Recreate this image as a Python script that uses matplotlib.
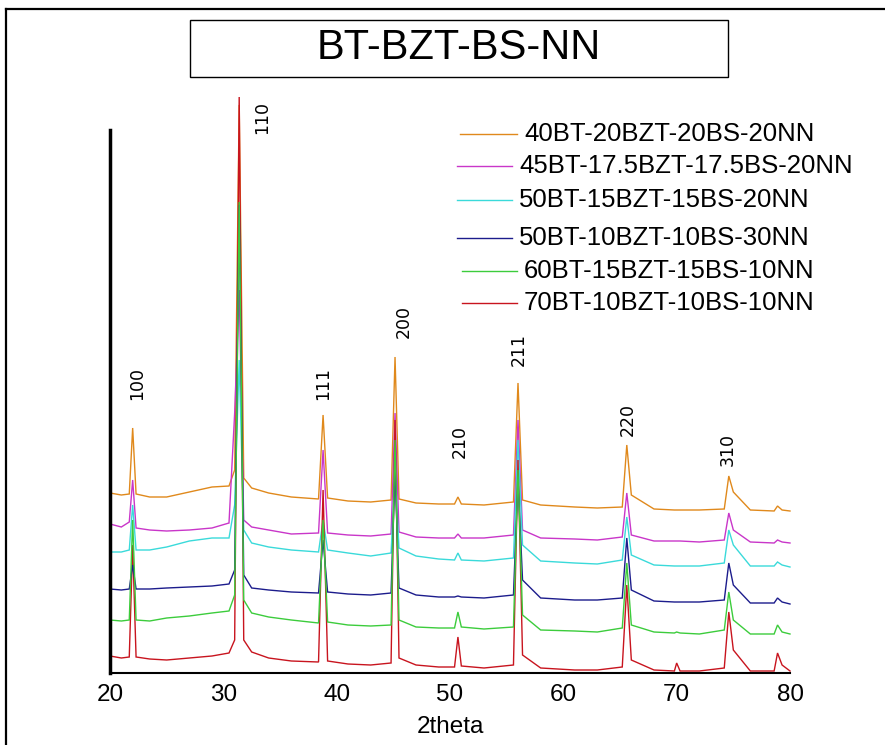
import numpy as np
import matplotlib
matplotlib.use("Agg")
import matplotlib.pyplot as plt
from matplotlib.lines import Line2D
from matplotlib.patches import Rectangle

plt.rcParams['font.family'] = ['Liberation Sans', 'DejaVu Sans']

# ---------------- data ----------------
series_names = ["40BT-20BZT-20BS-20NN", "45BT-17.5BZT-17.5BS-20NN",
                "50BT-15BZT-15BS-20NN", "50BT-10BZT-10BS-30NN",
                "60BT-15BZT-15BS-10NN", "70BT-10BZT-10BS-10NN"]
series_colors = ["#E0891C", "#C936C9", "#3ADADA", "#1C1C8C", "#3CCC3C", "#C8141E"]

# background knots (2theta) shared by all patterns
base_x = [20.0, 21.0, 21.7, 22.3, 23.5, 25.0, 27.0, 29.0, 30.5, 31.0, 31.8, 32.5,
          34.0, 36.0, 38.4, 39.2, 41.0, 43.0, 44.8, 45.5, 47.0, 49.0, 50.4, 51.0,
          53.0, 55.6, 56.4, 58.0, 61.0, 63.0, 65.2, 66.0, 68.0, 69.8, 70.3, 72.0,
          74.2, 75.0, 76.5, 78.6, 79.3, 80.0]
# reflection positions (2theta)
peak_x = [22.0, 31.4, 38.8, 45.15, 50.7, 56.0, 65.6, 70.0, 74.6, 78.9]

base_40 = [180, 178, 179, 179, 176, 176, 181, 186, 187, 203, 195, 185, 180, 176, 174, 175,
           172, 171, 173, 174, 170, 169, 169, 169, 168, 171, 173, 168, 166, 165, 166, 178,
           164, 163, 163, 163, 164, 181, 163, 162, 163, 162]
top_40 = [245, 568, 258, 316, 176, 290, 228, 163, 197, 167]

base_45 = [149, 146, 151, 145, 143, 142, 143, 145, 150, 260, 153, 146, 143, 139, 140, 140,
           138, 137, 139, 141, 136, 135, 135, 135, 135, 138, 143, 135, 134, 133, 136, 138,
           132, 132, 132, 131, 133, 143, 131, 130, 131, 130]
top_45 = [193, 383, 223, 260, 139, 253, 180, 132, 160, 133]

base_50a = [121, 121, 123, 123, 123, 126, 132, 135, 135, 168, 143, 130, 126, 123, 121, 123,
            120, 117, 120, 125, 117, 114, 113, 113, 112, 115, 128, 112, 110, 109, 113, 118,
            108, 107, 107, 107, 110, 128, 107, 107, 108, 106]
top_50a = [168, 313, 153, 203, 120, 233, 156, 107, 143, 111]

base_50b = [84, 83, 84, 84, 84, 85, 86, 87, 89, 103, 98, 85, 83, 81, 80, 81,
            79, 78, 80, 85, 78, 76, 76, 76, 75, 78, 93, 75, 73, 73, 75, 83,
            72, 71, 71, 71, 73, 88, 70, 70, 71, 69]
top_50b = [108, 468, 133, 203, 77, 195, 135, 71, 110, 75]

base_60 = [53, 52, 53, 53, 52, 55, 57, 60, 62, 78, 73, 60, 56, 53, 50, 51,
           48, 47, 48, 53, 46, 45, 45, 46, 44, 46, 58, 43, 42, 41, 45, 48,
           41, 40, 40, 39, 43, 53, 39, 39, 41, 39]
top_60 = [153, 471, 153, 233, 61, 203, 110, 41, 81, 48]

base_70 = [17, 15, 16, 16, 14, 13, 15, 17, 20, 33, 33, 21, 15, 12, 11, 12,
           9, 8, 10, 15, 8, 6, 6, 7, 5, 8, 18, 5, 3, 3, 6, 13,
           3, 2, 2, 2, 5, 23, 2, 2, 8, 2]
top_70 = [128, 576, 183, 253, 36, 213, 88, 10, 61, 20]

hkl_labels = ["100", "110", "111", "200", "210", "211", "220", "310"]
hkl_x = [22.35, 33.4, 38.8, 45.9, 50.9, 56.1, 65.7, 74.5]
hkl_y = [290, 555, 290, 351, 231, 323, 254, 223]

x_ticks = [20, 30, 40, 50, 60, 70, 80]

bases = [base_40, base_45, base_50a, base_50b, base_60, base_70]
tops = [top_40, top_45, top_50a, top_50b, top_60, top_70]

# ---------------- figure ----------------
W, H = 885, 745
fig = plt.figure(figsize=(W / 100, H / 100), dpi=100)
fig.patch.set_facecolor("white")

ax = fig.add_axes([110 / W, (H - 673) / H, 680 / W, 543 / H])

draw_order = [0, 1, 2, 5, 3, 4]
for i in draw_order:
    xs = np.array(base_x + peak_x)
    ys = np.array(bases[i] + tops[i])
    o = np.argsort(xs, kind="stable")
    ax.plot(xs[o], ys[o], color=series_colors[i], lw=1.0, clip_on=False,
            solid_joinstyle="miter")

ax.set_xlim(20, 80)
ax.set_ylim(0, 543)
ax.set_xticks(x_ticks)
ax.set_xticklabels([str(t) for t in x_ticks], fontsize=17.5)
ax.tick_params(axis="x", length=0, pad=8)
ax.set_yticks([])
ax.set_xlabel("2theta", fontsize=17.5, labelpad=7)
for s in ["top", "right"]:
    ax.spines[s].set_visible(False)
ax.spines["left"].set_linewidth(2.5)
ax.spines["bottom"].set_linewidth(1.5)
ax.spines["left"].set_color("black")
ax.spines["bottom"].set_color("black")

for lab, lx, ly in zip(hkl_labels, hkl_x, hkl_y):
    ax.text(lx, ly, lab, rotation=90, ha="center", va="center", fontsize=12.5,
            family=["DejaVu Sans"], clip_on=False)

# legend (manual)
leg_rows = [134, 166, 200, 238, 271, 303]
leg_line = [(460, 517), (457, 512), (457, 512), (457, 512), (462, 517), (462, 517)]
leg_text_x = [524, 519, 519, 519, 524, 524]
for k in range(6):
    yy = 1 - leg_rows[k] / H
    fig.add_artist(Line2D([leg_line[k][0] / W, leg_line[k][1] / W], [yy, yy],
                          color=series_colors[k], lw=1.0))
    fig.text(leg_text_x[k] / W, yy, series_names[k], fontsize=18.5, va="center", ha="left")

# title box
fig.add_artist(Rectangle((190 / W, 1 - 77 / H), (728 - 190) / W, (77 - 20) / H,
                         fill=False, edgecolor="black", lw=1.0))
fig.text(459 / W, 1 - 48 / H, "BT-BZT-BS-NN", fontsize=30, ha="center", va="center")

# outer frame (partially visible)
fig.add_artist(Line2D([6 / W, 1.0], [1 - 9 / H, 1 - 9 / H], color="black", lw=1.6))
fig.add_artist(Line2D([6 / W, 6 / W], [0.0, 1 - 9 / H], color="black", lw=1.6))

fig.savefig("out.png", dpi=100)
